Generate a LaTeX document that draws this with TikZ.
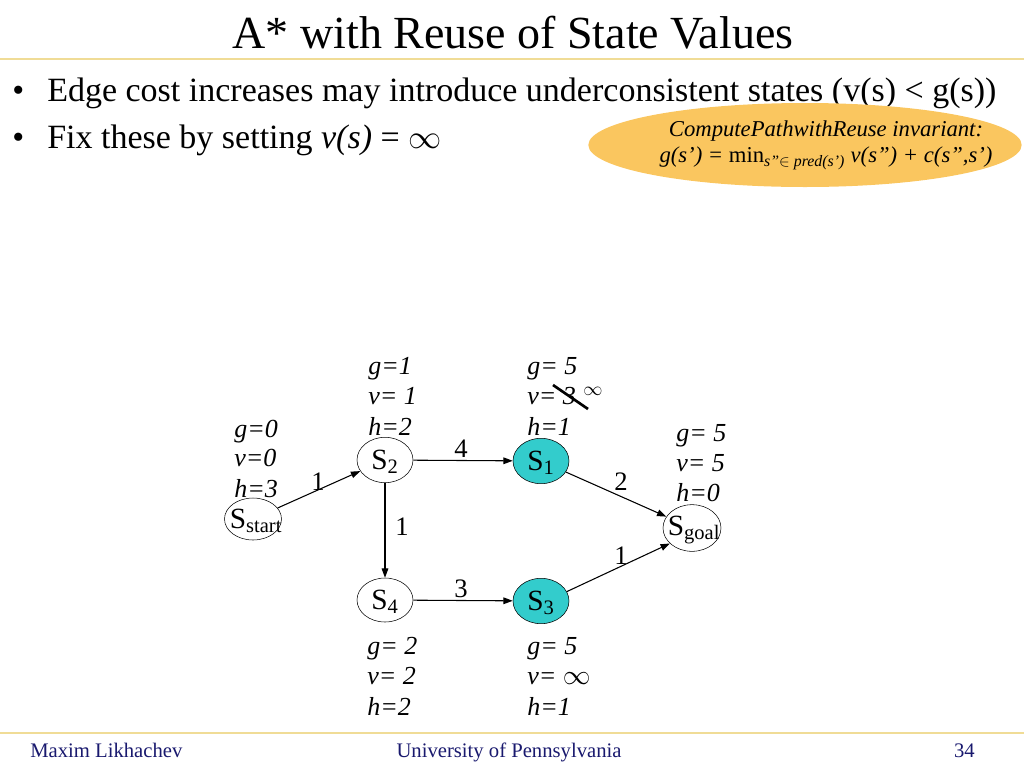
\documentclass[tikz,border=0pt]{standalone}
\usepackage{fontspec}
\setmainfont{Liberation Serif}
\usetikzlibrary{arrows.meta,shapes.geometric}
\definecolor{tealfill}{RGB}{51,204,204}
\definecolor{calloutfill}{RGB}{250,198,95}
\definecolor{rulecol}{RGB}{240,220,150}
\definecolor{navy}{RGB}{25,25,110}
\tikzset{
  state/.style={draw,ellipse,inner sep=0pt,minimum width=42pt,minimum height=34pt},
  goal/.style={state,fill=tealfill},
  stext/.style={inner sep=0pt,font=\fontsize{22}{24}\selectfont},
  edge/.style={-{Triangle[length=7pt,width=5pt]},line width=0.8pt},
  val/.style={anchor=base west,inner sep=0pt,font=\fontsize{19.5}{22}\selectfont\itshape},
  cost/.style={inner sep=0pt,font=\fontsize{20}{22}\selectfont},
  bullet/.style={anchor=base west,inner sep=0pt,font=\fontsize{25.5}{28}\selectfont},
  foot/.style={anchor=base,inner sep=0pt,text=navy,font=\fontsize{15.5}{17}\selectfont}
}
\begin{document}
\begin{tikzpicture}[x=0.75pt,y=-0.75pt]
\useasboundingbox (0,0) rectangle (1024,768);
% title and rules
\node[anchor=base,inner sep=0pt,font=\fontsize{34.5}{38}\selectfont] (title) at (513,48) {A* with Reuse of State Values};
\draw[rulecol,line width=1.5pt] (0,59) -- (1024,59);
\draw[rulecol,line width=1.5pt] (0,733) -- (1024,733);
% bullets
\node[bullet] (b1) at (12,101) {•};
\node[bullet] (t1) at (47,101) {Edge cost increases may introduce underconsistent states (v(s) < g(s))};
\node[bullet] (b2) at (12,148) {•};
\node[bullet] (t2) at (47,148) {Fix these by setting \textit{v(s)} = $\infty$};
% callout
\node[ellipse,fill=calloutfill,inner sep=0pt,minimum width=325pt,minimum height=63pt] (callout) at (805,145) {};
\node[inner sep=0pt,align=center,font=\fontsize{17}{20}\selectfont\itshape] (callouttext) at (826,145)
  {ComputePathwithReuse invariant:\\[0pt]
   g(s’) = \textup{min}\textsubscript{s”$\in$ pred(s’)} v(s”) + c(s”,s’)};
% states
\node[state,minimum width=42.75pt,minimum height=31.5pt] (start) at (253,519) {};
\node[stext] (startt) at (256,521) {S\textsubscript{start}};
\node[state] (s2) at (385,460) {};
\node[stext] (s2t) at (385,462) {S\textsubscript{2}};
\node[goal] (s1) at (541,461) {};
\node[stext] (s1t) at (541,463) {S\textsubscript{1}};
\node[state,minimum width=43.5pt,minimum height=35pt] (sgoal) at (692,528) {};
\node[stext] (sgoalt) at (694,530) {S\textsubscript{goal}};
\node[state,minimum height=33pt] (s4) at (385,600) {};
\node[stext] (s4t) at (385,602) {S\textsubscript{4}};
\node[goal] (s3) at (541,601) {};
\node[stext] (s3t) at (541,603) {S\textsubscript{3}};
% edges
\draw[edge] (start) -- (s2);
\draw[edge] (s2) -- (s1);
\draw[edge] (s2) -- (s4);
\draw[edge] (s4) -- (s3);
\draw[edge] (s1) -- (sgoal);
\draw[edge] (s3.20) -- (sgoal.215);
% edge costs
\node[cost] (c1) at (318,482) {1};
\node[cost] (c2) at (461,449) {4};
\node[cost] (c3) at (402,527) {1};
\node[cost] (c4) at (461,589) {3};
\node[cost] (c5) at (621,482) {2};
\node[cost] (c6) at (621,556) {1};
% values
\node[val] (startg) at (234,437) {g=0};
\node[val] (startv) at (234,466) {v=0};
\node[val] (starth) at (234,497) {h=3};
\node[val] (s2g) at (368,374) {g=1};
\node[val] (s2v) at (368,404) {v= 1};
\node[val] (s2h) at (368,435) {h=2};
\node[val] (s1g) at (527,374) {g= 5};
\node[val] (s1v) at (527,404) {v= 3};
\node[val] (s1h) at (527,435) {h=1};
\draw[line width=2pt] (553,385) -- (588,409);
\node[inner sep=0pt,font=\fontsize{14}{16}\selectfont] (s1inf) at (593,391) {$\infty$};
\node[val] (goalg) at (676,441) {g= 5};
\node[val] (goalv) at (676,471) {v= 5};
\node[val] (goalh) at (676,501) {h=0};
\node[val] (s4g) at (367,654) {g= 2};
\node[val] (s4v) at (367,684) {v= 2};
\node[val] (s4h) at (367,715) {h=2};
\node[val] (s3g) at (527,654) {g= 5};
\node[val] (s3v) at (527,684) {v= $\infty$};
\node[val] (s3h) at (527,715) {h=1};
% footer
\node[foot,anchor=base west] (f1) at (30,757) {Maxim Likhachev};
\node[foot] (f2) at (509,757) {University of Pennsylvania};
\node[foot,anchor=base east] (f3) at (975,757) {34};
\end{tikzpicture}
\end{document}
